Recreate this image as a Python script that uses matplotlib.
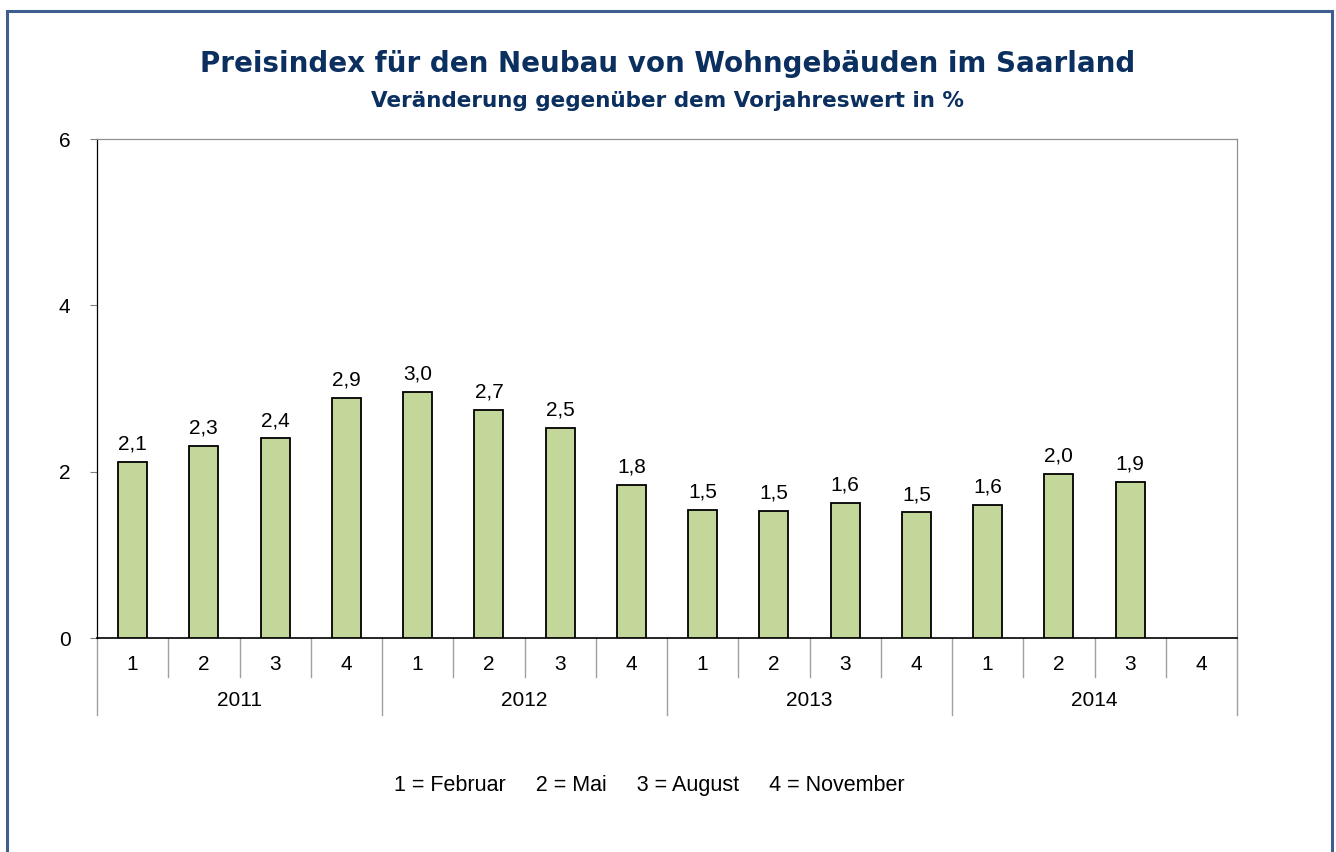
import matplotlib.pyplot as plt
from matplotlib.patches import Rectangle

years = ["2011", "2012", "2013", "2014"]
quarters = ["1", "2", "3", "4"]
values = [2.12, 2.31, 2.40, 2.89, 2.96, 2.74, 2.53, 1.84,
          1.54, 1.53, 1.62, 1.51, 1.60, 1.97, 1.88, None]
value_labels = ["2,1", "2,3", "2,4", "2,9", "3,0", "2,7", "2,5", "1,8",
                "1,5", "1,5", "1,6", "1,5", "1,6", "2,0", "1,9", ""]
y_ticks = [0, 2, 4, 6]

title = "Preisindex für den Neubau von Wohngebäuden im Saarland"
subtitle = "Veränderung gegenüber dem Vorjahreswert in %"
note = "1 = Februar     2 = Mai     3 = August     4 = November"

W, H = 1336, 852
fig = plt.figure(figsize=(W / 100, H / 100), dpi=100)
fig.patch.set_facecolor("white")

# outer frame (bottom edge runs off the picture)
fig.patches.append(Rectangle((7 / W, -0.02), (1332 - 7) / W, 1.02 - 11 / H,
                             transform=fig.transFigure, fill=False,
                             edgecolor="#3F5E8F", linewidth=2.2))

ax = fig.add_axes([97 / W, 1 - 638 / H, (1237 - 97) / W, (638 - 139) / H])

n = len(values)
xs = list(range(n))
bar_x = [x for x, v in zip(xs, values) if v is not None]
bar_v = [v for v in values if v is not None]
ax.bar(bar_x, bar_v, width=0.41, color="#C4D79B", edgecolor="black",
       linewidth=1.3, zorder=3)

fs = 15
for x, v, lab in zip(xs, values, value_labels):
    if v is None:
        continue
    ax.text(x, v + 0.1, lab, ha="center", va="bottom", fontsize=fs,
            family="Liberation Sans", color="black")

ax.set_xlim(-0.5, n - 0.5)
ax.set_ylim(0, 6)
ax.set_yticks(y_ticks)
ax.set_yticklabels([str(t) for t in y_ticks], family="Liberation Sans",
                   fontsize=fs)
ax.tick_params(axis="y", length=5, width=0.8, color="#808080", pad=14)
ax.set_xticks([])

for s in ["top", "right"]:
    ax.spines[s].set_color("#909090")
    ax.spines[s].set_linewidth(0.9)
ax.spines["left"].set_color("black")
ax.spines["bottom"].set_color("black")
ax.spines["left"].set_linewidth(0.9)
ax.spines["bottom"].set_linewidth(1.2)

# two-level category axis
tr = ax.get_xaxis_transform()
for i in range(n + 1):
    bottom = -0.154 if i % 4 == 0 else -0.078
    ax.plot([i - 0.5, i - 0.5], [0, bottom], transform=tr, color="#A0A0A0",
            linewidth=1.0, clip_on=False)
for i in range(n):
    ax.text(i, -0.054, quarters[i % 4], transform=tr, ha="center",
            va="center", fontsize=fs, family="Liberation Sans")
for j, yr in enumerate(years):
    ax.text(j * 4 + 1.5, -0.126, yr, transform=tr, ha="center", va="center",
            fontsize=fs, family="Liberation Sans")

fig.text(668 / W, 1 - 64 / H, title, ha="center", va="center",
         fontsize=20, fontweight="bold", color="#0B2F5E", family="DejaVu Sans")
fig.text(667 / W, 1 - 101 / H, subtitle, ha="center", va="center",
         fontsize=15.5, fontweight="bold", color="#0B2F5E",
         family="DejaVu Sans")
fig.text(649 / W, 1 - 785 / H, note, ha="center", va="center",
         fontsize=15.5, family="Liberation Sans")

fig.savefig("out.png", dpi=100)
